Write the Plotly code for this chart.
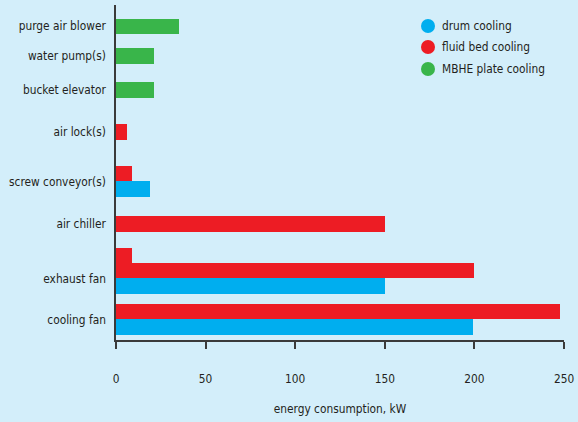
import plotly.graph_objects as go

# Equipment rows, listed top to bottom
categories = [
    "purge air blower",
    "water pump(s)",
    "bucket elevator",
    "air lock(s)",
    "screw conveyor(s)",
    "air chiller",
    "exhaust fan",
    "cooling fan",
]

# Energy consumption, kW (None = not used by that cooling system)
drum_cooling = [None, None, None, None, 19, None, 150, 199]
fluid_bed_cooling = [None, None, None, 6, 9, 150, 200, 248]
fluid_bed_secondary = [None, None, None, None, None, None, 9, None]
mbhe_plate_cooling = [35, 21, 21, None, None, None, None, None]

x_ticks = [0, 50, 100, 150, 200, 250]

# Styling
BG = "#d3eefa"
TEXT = "#231f20"
AXIS = "#3a3a3a"
BLUE = "#00aeef"
RED = "#ed1c24"
GREEN = "#39b54a"
FONT = "DejaVu Sans Condensed, Liberation Sans Narrow, Arial Narrow, sans-serif"
FS = 11.8

# Row centres on the category axis, in bar-thickness units (axis runs downward)
row_centre = [1.38, 3.32, 5.53, 8.24, 11.45, 14.21, 17.75, 20.41]
axis_span = 21.75

# Series drawn in each row from top to bottom; the secondary bar sits above the row's main bars
main_series = [
    ("fluid bed cooling", fluid_bed_cooling, RED),
    ("MBHE plate cooling", mbhe_plate_cooling, GREEN),
    ("drum cooling", drum_cooling, BLUE),
]

positions = {name: [None] * len(categories) for name, _, _ in main_series}
secondary_pos = [None] * len(categories)
for i, centre in enumerate(row_centre):
    present = [name for name, vals, _ in main_series if vals[i] is not None]
    top = centre - (len(present) - 1) / 2
    for k, name in enumerate(present):
        positions[name][i] = top + k
    if fluid_bed_secondary[i] is not None:
        secondary_pos[i] = top - 1

fig = go.Figure()


def add_bars(values, ys, colour):
    pts = [(v, y) for v, y in zip(values, ys) if v is not None]
    fig.add_trace(go.Bar(
        x=[p[0] for p in pts],
        y=[p[1] for p in pts],
        orientation="h",
        width=1.0,
        marker=dict(color=colour, line=dict(width=0)),
        showlegend=False,
        hoverinfo="x",
    ))


for name, vals, colour in main_series:
    add_bars(vals, positions[name], colour)
add_bars(fluid_bed_secondary, secondary_pos, RED)

# Plot area in pixels
W, H = 578, 422
L, R, T, B = 116, 14, 5, 82


def paper_x(px):
    return (px - L) / (W - L - R)


def paper_y(py):
    return (H - B - py) / (H - T - B)


# Legend with round swatches
legend_items = [("drum cooling", BLUE), ("fluid bed cooling", RED), ("MBHE plate cooling", GREEN)]
legend_rows = [26, 47, 69]
shapes, annotations = [], []
for (label, colour), cy in zip(legend_items, legend_rows):
    r = 7
    shapes.append(dict(
        type="circle", xref="paper", yref="paper",
        x0=paper_x(428 - r), x1=paper_x(428 + r),
        y0=paper_y(cy + r), y1=paper_y(cy - r),
        fillcolor=colour, line=dict(width=0),
    ))
    annotations.append(dict(
        text=label, xref="paper", yref="paper",
        x=paper_x(440), y=paper_y(cy), xanchor="left", yanchor="middle",
        showarrow=False, font=dict(size=FS, color=TEXT, family=FONT),
    ))

fig.update_layout(
    width=W, height=H, autosize=False,
    margin=dict(l=L, r=R, t=T, b=B, pad=0),
    paper_bgcolor=BG, plot_bgcolor=BG,
    barmode="overlay",
    bargap=0,
    font=dict(family=FONT, size=FS, color=TEXT),
    shapes=shapes,
    annotations=annotations,
    showlegend=False,
    xaxis=dict(
        range=[0, 250],
        tickvals=x_ticks,
        ticks="outside", ticklen=7, tickwidth=1.5, tickcolor=AXIS,
        showline=True, linecolor=AXIS, linewidth=1.5,
        showgrid=False, zeroline=False,
        ticklabelstandoff=20,
        title=dict(text="energy consumption, kW", standoff=20, font=dict(size=FS)),
        fixedrange=True,
    ),
    yaxis=dict(
        range=[axis_span, 0],
        tickvals=row_centre,
        ticktext=categories,
        ticks="",
        showline=True, linecolor=AXIS, linewidth=1.5,
        showgrid=False, zeroline=False,
        ticklabelstandoff=6,
        fixedrange=True,
    ),
)

fig.write_html("out.html")
